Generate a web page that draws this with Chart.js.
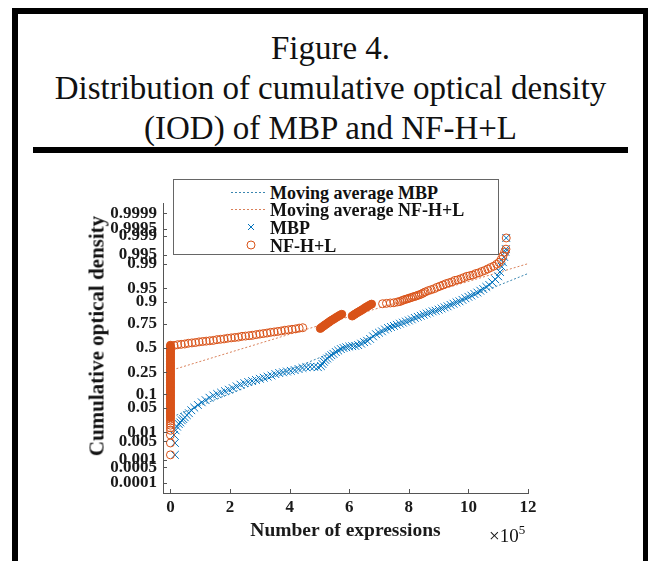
<!DOCTYPE html>
<html>
<head>
<meta charset="utf-8">
<script src="https://cdn.jsdelivr.net/npm/chart.js@4.4.1/dist/chart.umd.min.js"></script>
<style>
  html, body { margin: 0; padding: 0; background: #fff; }
  body { width: 648px; height: 561px; position: relative; overflow: hidden; font-family: "Liberation Serif", serif; color: #111; }
  #frame { position: absolute; left: 12px; top: 8px; width: 625px; height: 620px;
           border-left: 6px solid #000; border-top: 6px solid #000; border-right: 5px solid #000; }
  #title { position: absolute; left: 18px; width: 625px; top: 28px; text-align: center;
           font-size: 33px; line-height: 40px; }
  #rule { position: absolute; left: 33px; top: 147px; width: 595px; height: 6px; background: #000; }
  #chart { position: absolute; left: 0; top: 0; z-index: 1; }
  #ytitle { position: absolute; left: 97px; top: 336px; transform: translate(-50%, -50%) rotate(-90deg);
            white-space: nowrap; font-weight: bold; font-size: 21px; z-index: 2; }
  #xpow { position: absolute; left: 489px; top: 522px; font-size: 19px; z-index: 2; }
  #xpow sup { font-size: 13px; vertical-align: 8px; }
  #legend { position: absolute; left: 173px; top: 179px; width: 324px; height: 74px;
            border: 1px solid #666; background: #fff; z-index: 3; }
  #legend svg { position: absolute; left: 0; top: 0; }
  #legend span { position: absolute; left: 96px; font-weight: bold; font-size: 18px; line-height: 18px; white-space: nowrap; }
</style>
</head>
<body>
<div id="frame"></div>
<div id="title">Figure 4.<br>Distribution of cumulative optical density<br>(IOD) of MBP and NF-H+L</div>
<div id="rule"></div>
<canvas id="chart" width="648" height="561"></canvas>
<div id="ytitle">Cumulative optical density</div>
<div id="xpow">&times;10<sup>5</sup></div>
<div id="legend">
  <svg width="324" height="74">
    <line x1="57" y1="12.5" x2="92" y2="12.5" stroke="#3a86b0" stroke-width="1" stroke-dasharray="2,2"/>
    <line x1="57" y1="29.5" x2="92" y2="29.5" stroke="#d9805a" stroke-width="1" stroke-dasharray="2,2"/>
    <path d="M74 44 L80 50 M80 44 L74 50" stroke="#0072BD" stroke-width="1"/>
    <circle cx="77" cy="65" r="4" fill="none" stroke="#D95319" stroke-width="1"/>
  </svg>
  <span style="top:4px">Moving average MBP</span>
  <span style="top:21px">Moving average NF-H+L</span>
  <span style="top:39px">MBP</span>
  <span style="top:57px">NF-H+L</span>
</div>

<script>
// x values are in units of 1e5 expressions, y values are cumulative probabilities
const xTicks = [0, 2, 4, 6, 8, 10, 12];
const yTickProbs  = [0.0001, 0.0005, 0.001, 0.005, 0.01, 0.05, 0.1, 0.25, 0.5, 0.75, 0.9, 0.95, 0.99, 0.995, 0.999, 0.9995, 0.9999];
const yTickLabels = ['0.0001','0.0005','0.001','0.005','0.01','0.05','0.1','0.25','0.5','0.75','0.9','0.95','0.99','0.995','0.999','0.9995','0.9999'];

// MBP observations
const mbpX = [0.15,0.15,0.12,0.17,0.22,0.28,0.33,0.38,0.43,0.48,0.55,
  0.62,0.70,0.80,0.92,1.05,1.18,1.31,1.44,1.57,1.70,1.83,1.96,2.09,2.22,2.35,2.48,2.61,2.74,2.87,3.00,
  3.13,3.26,3.39,3.52,3.65,3.78,3.91,4.04,4.17,4.30,4.43,4.56,4.69,4.82,4.95,
  5.05,5.10,5.15,5.20,5.26,5.33,5.40,5.47,5.55,5.63,5.72,5.81,5.90,6.00,6.10,6.20,6.30,6.40,6.50,6.60,
  6.70,6.80,6.90,7.00,7.10,7.20,7.30,7.40,7.50,7.60,7.70,7.80,7.90,8.00,8.10,8.20,8.30,8.40,8.50,8.60,
  8.70,8.80,8.90,9.00,9.10,9.20,9.30,9.40,9.50,9.60,9.70,9.80,9.90,10.00,10.10,10.20,10.30,10.40,10.50,
  10.60,10.70,10.80,10.90,11.00,11.06,11.12,11.16,11.20,11.24,11.26,11.27];
const mbpP = [0.0016,0.0044,0.0082,0.0116,0.015,0.018,0.020,0.023,0.025,0.028,0.032,
  0.036,0.043,0.050,0.058,0.067,0.075,0.085,0.095,0.102,0.109,0.117,0.125,0.134,0.145,0.156,0.166,0.174,0.181,0.189,0.198,
  0.206,0.215,0.224,0.236,0.245,0.251,0.258,0.264,0.271,0.281,0.291,0.298,0.302,0.302,0.298,
  0.309,0.330,0.352,0.371,0.386,0.405,0.421,0.436,0.456,0.472,0.488,0.500,0.508,0.516,0.520,0.524,0.532,0.548,0.564,0.579,
  0.599,0.626,0.648,0.663,0.677,0.695,0.709,0.719,0.729,0.739,0.749,0.758,0.767,0.776,0.785,0.797,0.805,0.813,0.821,0.829,
  0.836,0.844,0.848,0.855,0.862,0.869,0.875,0.883,0.889,0.896,0.901,0.908,0.915,0.921,0.926,0.932,0.937,0.943,0.948,
  0.954,0.959,0.965,0.971,0.976,0.982,0.9875,0.991,0.994,0.996,0.9968,0.9988];

// NF-H+L: sparse observations at zero expressions (lower tail)
const nfZeroTailP = [0.0016,0.0044,0.0082,0.0116,0.0139,0.0166,0.019,0.022,0.025];
// NF-H+L: packed observations at zero expressions (solid column)
const nfZeroP = [0.028,0.031,0.034,0.037,0.040,
  0.044,0.048,0.053,0.058,0.063,0.069,0.075,0.082,0.089,0.096,0.104,0.112,0.121,0.130,0.140,0.150,0.160,
  0.171,0.183,0.195,0.208,0.221,0.234,0.248,0.262,0.277,0.292,0.307,0.322,0.338,0.354,0.370,0.386,0.402,
  0.418,0.434,0.450,0.466,0.482,0.498,0.514,0.530];

// NF-H+L: packed clusters between 5 and 7 (x 1e5)
const nfClusterX = [5.03,5.08,5.13,5.18,5.23,5.28,5.33,5.38,5.44,5.50,5.56,5.62,5.68,5.75,
  6.10,6.15,6.20,6.26,6.32,6.38,6.44,6.50,6.56,6.62,6.68,6.75];
const nfClusterP = [0.705,0.716,0.726,0.736,0.745,0.755,0.764,0.773,0.782,0.791,0.800,0.808,0.816,0.824,
  0.811,0.819,0.826,0.834,0.841,0.848,0.855,0.862,0.869,0.875,0.881,0.887];

// NF-H+L: remaining observations
const nfX = [0.12,0.24,0.36,0.48,0.60,0.72,0.84,0.96,1.08,1.20,1.32,1.44,1.56,1.68,1.80,1.92,2.04,2.16,2.28,
  2.40,2.52,2.64,2.76,2.88,3.00,3.12,3.24,3.36,3.48,3.60,3.72,3.84,3.96,4.08,4.20,4.32,4.44,
  7.12,7.25,7.38,7.50,
  7.62,7.70,7.76,7.82,7.88,7.94,8.00,8.06,8.12,8.18,8.24,8.30,8.36,8.42,8.48,
  8.55,8.65,8.75,8.85,8.95,9.05,9.15,9.25,9.35,9.45,9.55,9.65,9.75,9.85,9.95,10.05,10.15,10.25,10.35,
  10.45,10.55,10.65,10.75,10.85,10.95,11.03,11.10,11.16,11.22,11.26,11.27];
const nfP = [0.528,0.536,0.540,0.544,0.552,0.556,0.560,0.567,0.571,0.575,0.579,0.583,0.591,0.595,0.599,0.606,0.610,0.614,0.618,
  0.626,0.629,0.633,0.637,0.644,0.650,0.655,0.660,0.667,0.671,0.676,0.681,0.688,0.692,0.697,0.701,0.708,0.712,
  0.889,0.891,0.893,0.894,
  0.898,0.900,0.904,0.907,0.910,0.912,0.915,0.917,0.920,0.922,0.924,0.927,0.929,0.932,0.935,
  0.939,0.943,0.946,0.949,0.953,0.956,0.959,0.962,0.964,0.966,0.969,0.970,0.972,0.974,0.976,0.977,0.978,0.980,0.981,
  0.9826,0.9838,0.9854,0.9868,0.988,0.9896,0.9909,0.9927,0.9945,0.9959,0.9968,0.9988];

// moving average curves
const maMbpX = [0.2, 4, 8, 12];
const maMbpP = [0.032, 0.274, 0.767, 0.980];
const maNfX  = [0.2, 4, 8, 12];
const maNfP  = [0.284, 0.648, 0.911, 0.990];

// inverse normal CDF (Acklam) -> probability paper axis
function probit(p) {
  const a = [-39.69683028665376, 220.9460984245205, -275.9285104469687, 138.3577518672690, -30.66479806614716, 2.506628277459239];
  const b = [-54.47609879822406, 161.5858368580409, -155.6989798598866, 66.80131188771972, -13.28068155288572];
  const c = [-0.007784894002430293, -0.3223964580411365, -2.400758277161838, -2.549732539343734, 4.374664141464968, 2.938163982698783];
  const d = [0.007784695709041462, 0.3224671290700398, 2.445134137142996, 3.754408661907416];
  const lo = 0.02425, hi = 1 - lo;
  let q, r;
  if (p < lo) {
    q = Math.sqrt(-2 * Math.log(p));
    return (((((c[0]*q+c[1])*q+c[2])*q+c[3])*q+c[4])*q+c[5]) / ((((d[0]*q+d[1])*q+d[2])*q+d[3])*q+1);
  }
  if (p > hi) {
    q = Math.sqrt(-2 * Math.log(1 - p));
    return -(((((c[0]*q+c[1])*q+c[2])*q+c[3])*q+c[4])*q+c[5]) / ((((d[0]*q+d[1])*q+d[2])*q+d[3])*q+1);
  }
  q = p - 0.5; r = q * q;
  return (((((a[0]*r+a[1])*r+a[2])*r+a[3])*r+a[4])*r+a[5])*q / (((((b[0]*r+b[1])*r+b[2])*r+b[3])*r+b[4])*r+1);
}

const pts = (xs, ps) => xs.map((x, i) => ({ x: x, y: probit(ps[i]) }));
const atZero = ps => pts(ps.map(() => 0), ps);

// ticks pointing into the plot, like the original
const innerTicks = {
  id: 'innerTicks',
  afterDraw(chart) {
    const { ctx, chartArea: a, scales: { x, y } } = chart;
    ctx.save();
    ctx.strokeStyle = '#555';
    ctx.lineWidth = 1;
    ctx.beginPath();
    x.ticks.forEach(t => {
      const px = Math.round(x.getPixelForValue(t.value)) + 0.5;
      ctx.moveTo(px, a.bottom); ctx.lineTo(px, a.bottom - 4);
    });
    y.ticks.forEach(t => {
      const py = Math.round(y.getPixelForValue(t.value)) + 0.5;
      ctx.moveTo(a.left, py); ctx.lineTo(a.left + 4, py);
    });
    ctx.stroke();
    ctx.restore();
  }
};

const ORANGE = '#D95319', BLUE = '#0072BD';
const tickFont = { family: 'Liberation Serif', size: 17, weight: 'bold' };

new Chart(document.getElementById('chart'), {
  type: 'scatter',
  data: {
    datasets: [
      { label: 'Moving average MBP', data: pts(maMbpX, maMbpP), showLine: true, pointRadius: 0,
        borderColor: '#3a86b0', borderWidth: 1, borderDash: [2, 2], order: 5 },
      { label: 'Moving average NF-H+L', data: pts(maNfX, maNfP), showLine: true, pointRadius: 0,
        borderColor: '#d9805a', borderWidth: 1, borderDash: [2, 2], order: 4 },
      { label: 'MBP', data: pts(mbpX, mbpP), pointStyle: 'crossRot', pointRadius: 5.5,
        borderColor: BLUE, borderWidth: 1, order: 3 },
      { label: 'NF-H+L', data: atZero(nfZeroTailP).concat(pts(nfX, nfP)), pointStyle: 'circle', pointRadius: 4,
        borderColor: ORANGE, backgroundColor: 'rgba(0,0,0,0)', borderWidth: 1, order: 1 },
      { label: 'NF-H+L packed', data: atZero(nfZeroP).concat(pts(nfClusterX, nfClusterP)), pointStyle: 'circle', pointRadius: 4,
        borderColor: ORANGE, backgroundColor: ORANGE, borderWidth: 1, order: 0 }
    ]
  },
  options: {
    responsive: false,
    animation: false,
    layout: { padding: { left: 0, top: 203, right: 120, bottom: 0 } },
    plugins: { legend: { display: false }, tooltip: { enabled: false } },
    scales: {
      x: {
        type: 'linear', min: -0.25, max: 12,
        afterBuildTicks: s => { s.ticks = xTicks.map(v => ({ value: v })); },
        afterFit: s => { s.height = 68; },
        grid: { display: false, drawTicks: false },
        border: { display: true, color: '#555', width: 1 },
        ticks: { color: '#1a1a1a', font: tickFont, padding: 4, autoSkip: false, maxRotation: 0 },
        title: { display: true, text: 'Number of expressions', color: '#1a1a1a',
                 font: { family: 'Liberation Serif', size: 19.5, weight: 'bold' }, padding: { top: 0, bottom: 18 } }
      },
      y: {
        type: 'linear', min: -4, max: 4,
        afterBuildTicks: s => { s.ticks = yTickProbs.map(p => ({ value: probit(p) })); },
        afterFit: s => { s.width = 163; },
        grid: { display: false, drawTicks: false },
        border: { display: true, color: '#555', width: 1 },
        ticks: { color: '#1a1a1a', font: tickFont, padding: 6, autoSkip: false,
                 callback: (v, i) => yTickLabels[i] }
      }
    }
  },
  plugins: [innerTicks]
});
</script>
</body>
</html>
